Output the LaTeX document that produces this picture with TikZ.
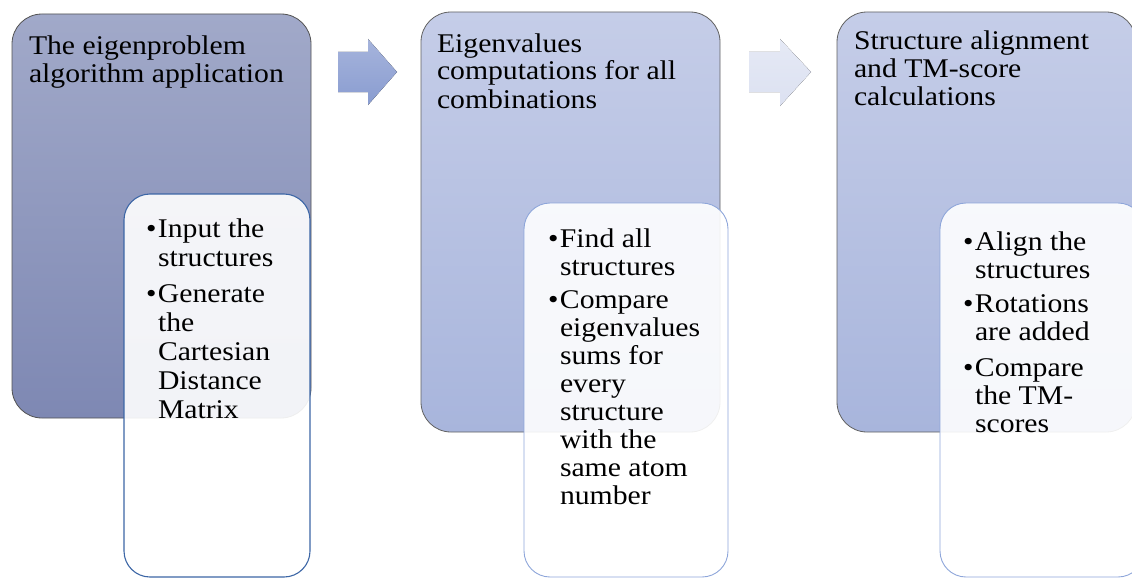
\documentclass[tikz,border=0pt]{standalone}
\usepackage{fontspec}
\setmainfont{Liberation Serif}[FakeStretch=1.1]
\definecolor{stagetop}{HTML}{A1A9C9}
\definecolor{stagebot}{HTML}{7E88B3}
\definecolor{paletop}{HTML}{C5CDE8}
\definecolor{palebot}{HTML}{A8B5DC}
\definecolor{darkrim}{HTML}{3C66A6}
\definecolor{lightrim}{HTML}{8EA6DA}
\definecolor{arrowtop}{HTML}{A6B4DC}
\definecolor{arrowbot}{HTML}{899CD0}
\definecolor{fadetop}{HTML}{E5E9F5}
\definecolor{fadebot}{HTML}{DCE1F1}
\newcommand{\bul}{\makebox[12pt][l]{\textbullet}}
\newcommand{\bulind}{\hspace*{12pt}}

\begin{document}
\begin{tikzpicture}[x=1pt, y=-1pt,
every node/.style = {inner sep=0pt, outer sep=0pt, text=black},
stage/.style = {shape=rectangle, rounded corners=30pt, line width=0.8pt,
  minimum width=299pt, minimum height=420pt, draw=black!62,
  top color=paletop, bottom color=palebot},
detail/.style = {shape=rectangle, rounded corners=26pt, line width=0.9pt,
  minimum width=204pt, minimum height=374pt, draw=lightrim,
  fill=white, fill opacity=0.9},
title/.style = {anchor=base west, align=left, font=\fontsize{27}{28}\selectfont},
items/.style = {anchor=base west, align=left, font=\fontsize{27}{28}\selectfont}
]
\useasboundingbox (0,0) rectangle (1132,578);
\clip (0,0) rectangle (1132,578);

\node (stage1) [stage, minimum height=404pt, draw=black!68,
  top color=stagetop, bottom color=stagebot] at (161.5,216) {};
\node (box1) [detail, draw=darkrim, line width=1.1pt, minimum width=186pt,
  minimum height=383pt] at (217,385.5) {};
\node (stage2) [stage] at (570.5,222) {};
\node (box2) [detail] at (626,390) {};
\node (stage3) [stage] at (986.5,222) {};
\node (box3) [detail] at (1042,390) {};

\fill [top color=arrowtop, bottom color=arrowbot]
  (338,52) -- (368,52) -- (368,39) -- (397,72) -- (368,105) -- (368,92) -- (338,92) -- cycle;
\fill [top color=fadetop, bottom color=fadebot]
  (749,52) -- (780,52) -- (780,39) -- (811,72) -- (780,106) -- (780,92) -- (749,92) -- cycle;

% base anchors sit on the last line
\node (title1) [title] at (29,82) {The eigenproblem\\algorithm application};
\node (title2) [title] at (437,108) {Eigenvalues\\computations for all\\combinations};
\node (title3) [title, font=\fontsize{27}{27.5}\selectfont] at (854,105)
  {Structure alignment\\and TM-score\\calculations};

\node (list1) [items, font=\fontsize{27}{29}\selectfont] at (146,418)
  {\bul Input the\\\bulind structures\\[7pt]
   \bul Generate\\\bulind the\\\bulind Cartesian\\\bulind Distance\\\bulind Matrix};
\node (list2) [items] at (548,504)
  {\bul Find all\\\bulind structures\\[5pt]
   \bul Compare\\\bulind eigenvalues\\\bulind sums for\\\bulind every\\
   \bulind structure\\\bulind with the\\\bulind same atom\\\bulind number};
\node (list3) [items] at (963,432)
  {\bul Align the\\\bulind structures\\[6pt]
   \bul Rotations\\\bulind are added\\[8pt]
   \bul Compare\\\bulind the TM-\\\bulind scores};
\end{tikzpicture}
\end{document}
